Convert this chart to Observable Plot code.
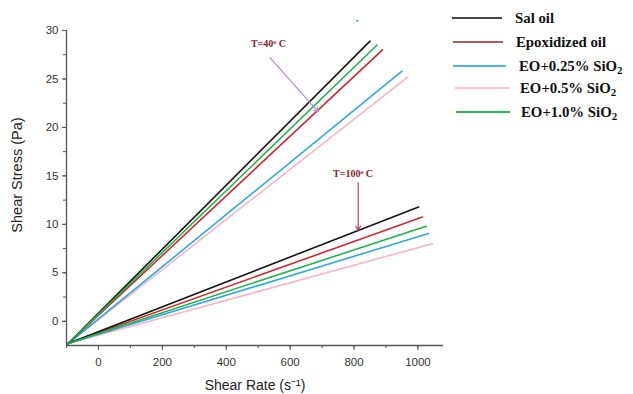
<!DOCTYPE html>
<html><head><meta charset="utf-8">
<script src="https://cdn.jsdelivr.net/npm/d3@7"></script>
<script src="https://cdn.jsdelivr.net/npm/@observablehq/plot@0.6"></script>
<style>
body{margin:0;background:#fff;}
#wrap{position:relative;width:633px;height:394px;}
#legend{position:absolute;left:450px;top:6px;font-family:"Liberation Serif","Times New Roman",serif;font-weight:bold;font-size:14.8px;color:#111;}
.row{position:absolute;white-space:nowrap;height:24px;line-height:24px;}
.sw{position:absolute;top:11px;height:2px;}
.lab{position:absolute;}
sub{font-size:11px;vertical-align:-3px;line-height:0;}
</style></head>
<body><div id="wrap"><div id="legend"></div></div>
<script>
const series = ["Sal oil","Epoxidized oil","EO+0.25% SiO2","EO+0.5% SiO2","EO+1.0% SiO2"];
const colors = ["#141414","#cc2a30","#2ea8e0","#f5b5c9","#22b24a"];
const legendColors = ["#444444","#b05a5e","#4ab6ea","#f7c2d2","#22b84a"];
const startX = -95, startY = -2.3;
const end40X = [850, 889, 950, 968, 872];
const end40Y = [28.9, 28.0, 25.8, 25.2, 28.5];
const end100X = [1002, 1014, 1033, 1045, 1026];
const end100Y = [11.8, 10.75, 9.05, 8.0, 9.8];
const xTicks = [0,200,400,600,800,1000];
const xMinor = [-100,0,100,200,300,400,500,600,700,800,900,1000];
const yTicks = [0,5,10,15,20,25,30];
const yMinor = [0,2.5,5,7.5,10,12.5,15,17.5,20,22.5,25,27.5,30];
const notes = [{label:"T=40ᵒ C", x:532, y:28.65, color:"#8b1c2c"},{label:"T=100ᵒ C", x:797, y:15.25, color:"#8b1c2c"}];
const arrows = [{x1:537, y1:27.2, x2:688, y2:21.6, color:"#b48ccb"},{x1:813, y1:14.3, x2:813, y2:9.4, color:"#c8405e"}];
const strayDot = [{x:810, y:31.0}];

const drawOrder = [3,2,1,0,4];
const lines = [];
for (const i of drawOrder) {
  lines.push({s:series[i], g:"40", x:startX, y:startY, i});
  lines.push({s:series[i], g:"40", x:end40X[i], y:end40Y[i], i});
}
for (const i of drawOrder) {
  lines.push({s:series[i], g:"100", x:startX, y:startY, i});
  lines.push({s:series[i], g:"100", x:end100X[i], y:end100Y[i], i});
}

const chart = Plot.plot({
  width: 633, height: 394,
  marginLeft: 66, marginTop: 30, marginBottom: 49, marginRight: 190,
  x: {domain:[-100,1080]},
  y: {domain:[-2.5,30]},
  style: {fontFamily:"'Liberation Sans', Arial, sans-serif", background:"#fff"},
  marks: [
    Plot.line(lines, {x:"x", y:"y", z: d => d.s + d.g, stroke: d => colors[d.i], strokeWidth:1.6}),
    Plot.ruleX([-100], {stroke:"#555", strokeWidth:1.3}),
    Plot.ruleY([-2.5], {stroke:"#555", strokeWidth:1.3}),
    Plot.axisX(xMinor, {tickSize:3, text:null, stroke:"#555"}),
    Plot.axisX(xTicks, {tickSize:5, tickPadding:7, fontSize:11.5, color:"#333", stroke:"#555", label:null, tickFormat: d => String(d)}),
    Plot.axisY(yMinor, {tickSize:3, text:null, stroke:"#555"}),
    Plot.axisY(yTicks, {tickSize:4, tickPadding:4, fontSize:11.5, color:"#333", stroke:"#555", label:null}),
    Plot.text(["Shear Rate (s⁻¹)"], {frameAnchor:"bottom", textAnchor:"middle", dy:44, fontSize:14, fill:"#222"}),
    Plot.text(["Shear Stress (Pa)"], {frameAnchor:"left", textAnchor:"middle", rotate:-90, dx:-49, dy:-13, fontSize:14.5, fill:"#222"}),
    Plot.arrow(arrows, {x1:"x1", y1:"y1", x2:"x2", y2:"y2", stroke:"color", strokeWidth:1.2, headLength:6}),
    Plot.text(notes, {x:"x", y:"y", text:"label", fill:"color", fontSize:10, fontWeight:"bold", fontFamily:"'Liberation Serif', 'Times New Roman', serif"}),
    Plot.dot(strayDot, {x:"x", y:"y", r:1, fill:"#22b24a", clip:false})
  ]
});
document.getElementById("wrap").prepend(chart);

const legend = document.getElementById("legend");
const rowTops = [0, 24, 48, 70, 94];
const swX = [2, 3, 3, 5, 6];
const swW = [50, 50, 53, 55, 54];
const labX = [65, 66, 69, 70, 71];
series.forEach((s, i) => {
  const row = document.createElement("div");
  row.className = "row";
  row.style.top = rowTops[i] + "px";
  const sw = document.createElement("div");
  sw.className = "sw";
  sw.style.left = swX[i] + "px";
  sw.style.width = swW[i] + "px";
  sw.style.background = legendColors[i];
  const lab = document.createElement("div");
  lab.className = "lab";
  lab.style.left = labX[i] + "px";
  lab.innerHTML = s.replace("SiO2", "SiO<sub>2</sub>");
  row.appendChild(sw); row.appendChild(lab);
  legend.appendChild(row);
});
</script></body></html>
